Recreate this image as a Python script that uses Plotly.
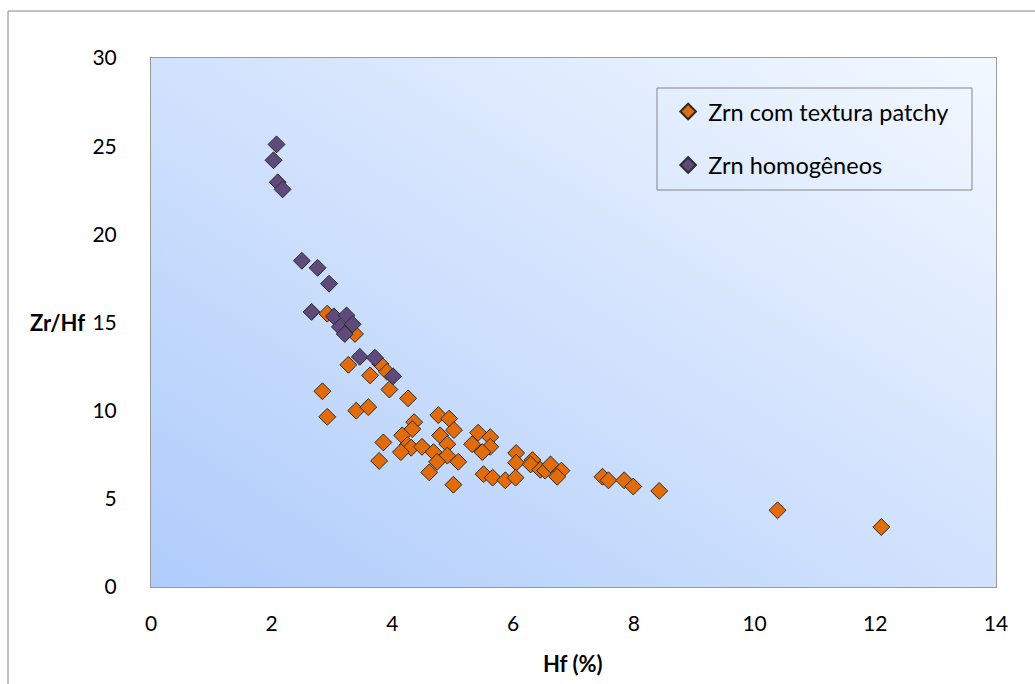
import base64
import plotly.graph_objects as go

# Zircon with patchy texture: Hf (%) and Zr/Hf ratio
patchy_hf = [2.92, 3.38, 3.27, 3.80, 3.63, 3.91, 3.95, 2.84, 4.26, 2.92,
             3.40, 3.60, 4.36, 4.76, 4.94, 4.33, 4.16, 5.02, 4.79, 4.91,
             3.85, 4.25, 4.31, 4.49, 4.14, 4.68, 4.91, 4.74, 5.09, 3.78,
             4.61, 5.01, 5.42, 5.32, 5.62, 5.62, 5.49, 6.05, 6.05, 5.51,
             5.66, 5.87, 6.04, 6.32, 6.29, 6.45, 6.53, 6.62, 6.80, 6.73,
             7.48, 7.58, 7.84, 7.99, 8.42, 10.38, 12.10]
patchy_zrhf = [15.5, 14.35, 12.6, 12.65, 12.0, 12.2, 11.2, 11.1, 10.7, 9.65,
               10.0, 10.2, 9.35, 9.75, 9.55, 8.95, 8.6, 8.9, 8.6, 8.1,
               8.2, 8.05, 7.9, 7.95, 7.65, 7.65, 7.45, 7.1, 7.1, 7.15,
               6.5, 5.8, 8.75, 8.1, 8.5, 7.95, 7.65, 7.6, 7.05, 6.4,
               6.2, 6.05, 6.2, 7.2, 6.95, 6.65, 6.6, 6.95, 6.6, 6.25,
               6.25, 6.05, 6.05, 5.7, 5.45, 4.35, 3.4]

# Homogeneous zircon
homog_hf = [2.08, 2.03, 2.10, 2.18, 2.50, 2.76, 2.95, 2.66, 3.03, 3.24,
            3.13, 3.34, 3.21, 3.46, 3.71, 4.01]
homog_zrhf = [25.1, 24.2, 22.95, 22.55, 18.5, 18.1, 17.2, 15.6, 15.35, 15.4,
              14.75, 14.9, 14.35, 13.05, 13.0, 11.95]

x_ticks = [0, 2, 4, 6, 8, 10, 12, 14]
y_ticks = [0, 5, 10, 15, 20, 25, 30]

FONT = "Lato"

# Diagonal blue-to-white gradient for the plotting area
svg = (
    '<svg xmlns="http://www.w3.org/2000/svg" width="845" height="529" '
    'preserveAspectRatio="none" viewBox="0 0 845 529">'
    '<defs><linearGradient id="g" x1="0" y1="1" x2="1" y2="0">'
    '<stop offset="0" stop-color="#afccfb"/>'
    '<stop offset="1" stop-color="#f3f8ff"/>'
    '</linearGradient></defs>'
    '<rect width="845" height="529" fill="url(#g)"/></svg>'
)
svg_uri = "data:image/svg+xml;base64," + base64.b64encode(svg.encode()).decode()

fig = go.Figure()

fig.add_trace(go.Scatter(
    x=patchy_hf, y=patchy_zrhf, mode="markers",
    name="Zrn com textura patchy", legendgroup="a",
    marker=dict(symbol="diamond", size=13, color="#E36C0A",
                line=dict(color="#2a2a2a", width=1)),
))
fig.add_trace(go.Scatter(
    x=homog_hf, y=homog_zrhf, mode="markers",
    name="Zrn homogêneos", legendgroup="b",
    marker=dict(symbol="diamond", size=13, color="#604A7B",
                line=dict(color="#2a2a2a", width=1)),
))

fig.update_layout(
    width=1035, height=684,
    margin=dict(l=151, r=39, t=58, b=97),
    paper_bgcolor="white",
    plot_bgcolor="rgba(0,0,0,0)",
    font=dict(family=FONT, size=20, color="black"),
    showlegend=True,
    legend=dict(
        x=0.612, y=0.94, xanchor="left", yanchor="top",
        bgcolor="rgba(0,0,0,0)", borderwidth=0,
        font=dict(family=FONT, size=23.5, color="black"),
        tracegroupgap=20, itemsizing="constant", itemwidth=30,
    ),
    images=[dict(
        source=svg_uri, xref="paper", yref="paper",
        x=0, y=1, sizex=1, sizey=1, xanchor="left", yanchor="top",
        sizing="stretch", layer="below",
    )],
    shapes=[
        # outer chart frame
        dict(type="rect", xref="paper", yref="paper",
             x0=-0.1692, x1=1.06, y0=-0.21, y1=1.0888,
             line=dict(color="#868686", width=1), fillcolor="rgba(0,0,0,0)"),
        # legend frame
        dict(type="rect", xref="paper", yref="paper",
             x0=(657 - 151) / 845, x1=(972 - 151) / 845,
             y0=(587 - 190) / 529, y1=(587 - 88) / 529,
             line=dict(color="#868686", width=1), fillcolor="rgba(0,0,0,0)"),
    ],
    annotations=[
        dict(text="<b>Zr/Hf</b>", xref="paper", yref="y",
             x=(87 - 151) / 845, y=15, xanchor="right", yanchor="middle",
             showarrow=False, font=dict(family=FONT, size=22, color="black")),
        dict(text="<b>Hf (%)</b>", xref="paper", yref="paper",
             x=(573 - 151) / 845, y=(587 - 663) / 529,
             xanchor="center", yanchor="middle",
             showarrow=False, font=dict(family=FONT, size=22, color="black")),
    ],
)

fig.update_xaxes(
    range=[0, 14], tickvals=x_ticks, ticktext=[str(v) for v in x_ticks],
    tickfont=dict(family=FONT, size=21, color="black"),
    showgrid=False, zeroline=False, ticks="", ticklabelstandoff=18,
    showline=True, linecolor="#9a9a9a", linewidth=1, mirror=True,
)
fig.update_yaxes(
    range=[0, 30], tickvals=y_ticks, ticktext=[str(v) for v in y_ticks],
    tickfont=dict(family=FONT, size=21, color="black"),
    showgrid=False, zeroline=False, ticks="", ticklabelstandoff=29,
    showline=True, linecolor="#9a9a9a", linewidth=1, mirror=True,
)

fig.write_html("out.html")
